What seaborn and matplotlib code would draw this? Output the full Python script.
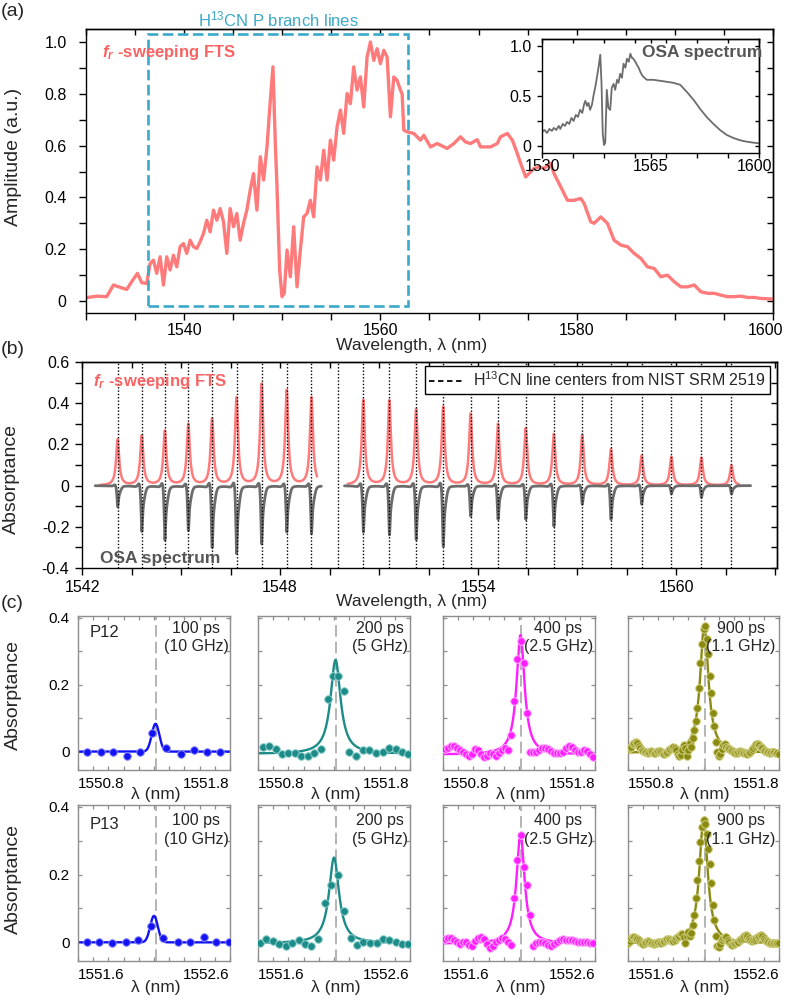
import numpy as np
import pandas as pd
import matplotlib
matplotlib.use("Agg")
import matplotlib.pyplot as plt
import seaborn as sns
from matplotlib.patches import Rectangle
from matplotlib.lines import Line2D
from matplotlib.ticker import FixedLocator, MultipleLocator
from matplotlib.transforms import ScaledTranslation

sns.set_theme(style="ticks")
plt.rcParams.update({
    "font.family": ["Liberation Sans", "DejaVu Sans"],
    "mathtext.fontset": "custom",
    "mathtext.rm": "Liberation Sans",
    "mathtext.it": "Liberation Sans:italic",
    "mathtext.bf": "Liberation Sans:bold",
    "mathtext.bfit": "Liberation Sans:italic:bold",
    "axes.unicode_minus": False,
    "axes.linewidth": 1.0,
    "axes.edgecolor": "black",
    "xtick.color": "black",
    "ytick.color": "black",
})

# ---------------- (a) f_r-sweeping FTS amplitude spectrum ----------------
fts_wl = [1530.00, 1531.09, 1532.11, 1532.79, 1533.47, 1534.15, 1534.66, 1535.24, 1535.68, 1536.19,
          1536.53, 1536.87, 1537.21, 1537.55, 1537.89, 1538.23, 1538.57, 1538.91, 1539.25, 1539.59,
          1539.93, 1540.27, 1540.61, 1540.95, 1541.29, 1541.63, 1541.97, 1542.31, 1542.65, 1542.99,
          1543.33, 1543.67, 1544.01, 1544.35, 1544.69, 1545.03, 1545.37, 1545.71, 1546.05, 1546.39,
          1546.73, 1547.07, 1547.41, 1547.76, 1548.10, 1548.44, 1548.78, 1549.05, 1549.29, 1549.46,
          1549.73, 1549.97, 1550.20, 1550.48, 1550.82, 1551.16, 1551.50, 1551.84, 1552.18, 1552.52,
          1552.86, 1553.20, 1553.54, 1553.88, 1554.22, 1554.56, 1554.90, 1555.24, 1555.58, 1555.92,
          1556.26, 1556.60, 1556.94, 1557.28, 1557.62, 1557.96, 1558.30, 1558.64, 1558.98, 1559.32,
          1559.66, 1560.00, 1560.34, 1560.68, 1561.02, 1561.36, 1561.70, 1562.04, 1562.21, 1562.38,
          1562.72, 1563.40, 1564.08, 1564.42, 1565.10, 1565.78, 1566.80, 1567.48, 1568.16, 1568.67,
          1569.18, 1569.86, 1570.20, 1571.22, 1571.90, 1572.24, 1572.93, 1573.44, 1573.95, 1574.29,
          1574.80, 1575.14, 1575.65, 1576.16, 1576.67, 1577.35, 1577.69, 1578.37, 1579.05, 1579.73,
          1580.41, 1580.75, 1581.43, 1581.77, 1582.45, 1583.13, 1583.81, 1584.49, 1585.17, 1585.85,
          1586.53, 1587.21, 1587.89, 1588.57, 1589.25, 1589.93, 1590.61, 1591.29, 1591.97, 1592.65,
          1593.33, 1594.01, 1594.69, 1595.37, 1596.05, 1596.73, 1597.41, 1598.10, 1598.78, 1600.00]
fts_amp = [0.013, 0.019, 0.017, 0.062, 0.053, 0.045, 0.075, 0.107, 0.071, 0.068,
           0.145, 0.158, 0.107, 0.171, 0.062, 0.171, 0.120, 0.177, 0.132, 0.210,
           0.222, 0.184, 0.235, 0.210, 0.203, 0.229, 0.261, 0.312, 0.267, 0.351,
           0.312, 0.357, 0.306, 0.184, 0.357, 0.287, 0.338, 0.235, 0.300, 0.351,
           0.428, 0.492, 0.351, 0.557, 0.467, 0.595, 0.775, 0.904, 0.608, 0.441,
           0.120, 0.017, 0.030, 0.197, 0.094, 0.287, 0.055, 0.197, 0.325, 0.338,
           0.389, 0.325, 0.518, 0.467, 0.582, 0.467, 0.621, 0.544, 0.672, 0.737,
           0.647, 0.801, 0.762, 0.904, 0.814, 0.865, 0.749, 0.942, 1.000, 0.929,
           0.974, 0.916, 0.968, 0.942, 0.711, 0.865, 0.852, 0.814, 0.800, 0.660,
           0.653, 0.647, 0.621, 0.640, 0.595, 0.608, 0.589, 0.608, 0.634, 0.614,
           0.608, 0.623, 0.595, 0.595, 0.608, 0.634, 0.647, 0.621, 0.569, 0.531,
           0.479, 0.492, 0.512, 0.518, 0.512, 0.531, 0.492, 0.441, 0.389, 0.389,
           0.396, 0.377, 0.306, 0.300, 0.325, 0.300, 0.235, 0.216, 0.210, 0.184,
           0.165, 0.132, 0.126, 0.094, 0.100, 0.075, 0.055, 0.055, 0.062, 0.036,
           0.030, 0.030, 0.023, 0.017, 0.017, 0.019, 0.014, 0.014, 0.010, 0.008]
box_wl = [1536.3, 1562.8]
box_amp = [-0.02, 1.03]

# (a) inset: OSA spectrum
osa_wl = [1530.0, 1530.8, 1531.6, 1532.4, 1533.2, 1533.8, 1534.6, 1535.4, 1535.9, 1536.7,
          1537.4, 1538.1, 1538.8, 1539.5, 1540.2, 1540.9, 1541.6, 1542.3, 1543.0, 1543.6,
          1544.0, 1544.5, 1545.0, 1545.5, 1546.1, 1546.6, 1547.2, 1547.8, 1548.3, 1548.8,
          1549.2, 1549.6, 1550.0, 1550.4, 1550.9, 1551.4, 1552.0, 1552.5, 1553.1, 1553.6,
          1554.2, 1554.7, 1555.2, 1555.8, 1556.3, 1556.9, 1557.4, 1558.0, 1558.5, 1559.0,
          1559.5, 1560.1, 1560.6, 1561.2, 1561.7, 1562.2, 1562.7, 1563.8, 1566.0, 1568.1,
          1570.3, 1572.4, 1574.6, 1576.7, 1578.9, 1581.0, 1583.1, 1585.3, 1587.4, 1589.6,
          1591.7, 1593.9, 1596.0, 1598.2, 1600.0]
osa_amp = [0.14, 0.16, 0.13, 0.17, 0.15, 0.18, 0.16, 0.20, 0.17, 0.22,
           0.20, 0.24, 0.22, 0.28, 0.25, 0.31, 0.29, 0.36, 0.33, 0.42,
           0.45, 0.40, 0.43, 0.36, 0.41, 0.50, 0.59, 0.70, 0.80, 0.91,
           0.62, 0.12, 0.01, 0.03, 0.56, 0.38, 0.36, 0.58, 0.62, 0.56,
           0.66, 0.63, 0.72, 0.68, 0.82, 0.78, 0.87, 0.84, 0.92, 0.88,
           0.87, 0.84, 0.81, 0.78, 0.74, 0.71, 0.69, 0.66, 0.66, 0.65,
           0.64, 0.63, 0.61, 0.54, 0.46, 0.37, 0.29, 0.22, 0.16, 0.11,
           0.08, 0.057, 0.043, 0.033, 0.027]

# ---------------- (b) absorptance of P-branch lines ----------------
line_centers = [1543.08, 1543.81, 1544.51, 1545.22, 1545.94, 1546.68, 1547.44, 1548.20,
                1548.95, 1549.74, 1550.52, 1551.31, 1552.12, 1552.94, 1553.77, 1554.60,
                1555.44, 1556.29, 1557.15, 1558.02, 1558.95, 1559.85, 1560.76, 1561.67]
fts_peak = [0.223, 0.242, 0.263, 0.296, 0.320, 0.423, 0.490, 0.459, 0.426, np.nan,
            0.413, 0.410, 0.367, 0.380, 0.346, 0.297, 0.277, 0.248, 0.245, 0.175,
            0.144, 0.139, 0.135, 0.098]
osa_dip = [0.102, 0.221, 0.262, 0.216, 0.298, 0.327, 0.281, 0.224, 0.232, np.nan,
           0.224, 0.237, 0.260, 0.293, 0.147, 0.163, 0.163, 0.196, 0.090, 0.163,
           0.090, 0.040, 0.057, 0.040]
fts_ranges = [(1542.55, 1549.12), (1550.05, 1561.90)]
osa_ranges = [(1542.40, 1549.25), (1549.95, 1562.25)]
fts_hwhm = 0.055
osa_hwhm = 0.03

# ---------------- (c) single lines P12 / P13 ----------------
p12_100_wl = [1550.861, 1550.949, 1551.032, 1551.120, 1551.208, 1551.289, 1551.377, 1551.478,
              1551.565, 1551.651, 1551.734]
p12_100_abs = [0.0, 0.0, 0.0, -0.013, 0.0, 0.057, 0.012, -0.008, 0.004, 0.0, 0.0]
p13_100_wl = [1551.661, 1551.740, 1551.826, 1551.915, 1551.997, 1552.078, 1552.161, 1552.256,
              1552.339, 1552.427, 1552.510, 1552.595]
p13_100_abs = [0.0, 0.0, -0.003, 0.0, 0.006, 0.049, 0.014, 0.0, 0.0, 0.015, 0.0, 0.0]

p12_200_wl = [1550.831, 1550.872, 1550.916, 1550.956, 1550.999, 1551.043, 1551.083, 1551.127,
              1551.170, 1551.214, 1551.259, 1551.296, 1551.326, 1551.366, 1551.401, 1551.445,
              1551.489, 1551.532, 1551.576, 1551.620, 1551.664, 1551.706, 1551.745, 1551.789]
p12_200_abs = [0.013, 0.017, 0.007, -0.007, -0.005, -0.005, -0.013, -0.013, -0.005, 0.007,
               0.157, 0.226, 0.226, 0.182, 0.0, -0.012, 0.005, 0.005, -0.003, -0.002,
               0.012, 0.009, 0.0, -0.008]
p13_200_wl = [1551.613, 1551.653, 1551.697, 1551.740, 1551.782, 1551.822, 1551.868, 1551.909,
              1551.949, 1551.997, 1552.041, 1552.080, 1552.124, 1552.168, 1552.210, 1552.249,
              1552.293, 1552.337, 1552.381, 1552.424, 1552.464, 1552.508, 1552.549, 1552.589]
p13_200_abs = [-0.002, 0.010, 0.005, -0.005, -0.010, -0.002, 0.007, -0.005, -0.010, 0.010,
               0.115, 0.169, 0.198, 0.093, 0.013, -0.007, 0.0, -0.003, -0.001, 0.010,
               0.007, 0.0, -0.005, -0.005]

p12_400_start, p13_400_start, step_400 = 1550.81, 1551.61, 0.02
p12_400_abs = [0.008, 0.010, 0.016, 0.017, 0.012, 0.005, 0.000, -0.006, -0.012, -0.006,
               0.008, 0.006, -0.008, -0.016, -0.014, -0.004, -0.006, -0.012, -0.004, 0.004,
               0.012, 0.006, 0.050, 0.150, 0.278, 0.330, 0.265, 0.115, -0.002, 0.000,
               -0.002, 0.004, 0.010, 0.012, 0.008, 0.002, -0.003, -0.004, -0.004, 0.000,
               0.010, 0.016, 0.013, 0.005, -0.002, -0.001, 0.005, 0.002, -0.008, -0.016]
p13_400_abs = [0.010, 0.014, 0.012, 0.008, 0.000, -0.004, 0.002, 0.000, -0.008, -0.012,
               0.004, 0.014, 0.016, 0.010, -0.006, -0.016, -0.012, 0.000, 0.006, 0.012,
               0.010, 0.002, -0.008, 0.132, 0.242, 0.318, 0.222, 0.168, 0.080, -0.010,
               -0.003, 0.000, 0.000, -0.003, -0.008, -0.012, -0.006, 0.002, 0.008, 0.010,
               0.008, 0.008, 0.006, 0.003, 0.000, 0.002, 0.000, 0.000, -0.001, -0.002]

p12_900_start, p13_900_start, step_900 = 1550.80, 1551.60, 0.01
p12_900_abs = [0.008, 0.010, 0.015, 0.022, 0.027, 0.028, 0.025, 0.018, 0.010, 0.004,
               0.002, 0.000, -0.002, -0.003, -0.001, 0.002, 0.000, -0.003, -0.004, -0.001,
               0.002, 0.001, -0.002, -0.004, -0.006, -0.004, 0.000, 0.004, 0.008, 0.012,
               0.015, 0.012, 0.004, -0.006, -0.012, -0.010, 0.005, 0.020, 0.010, -0.012,
               0.005, 0.027, 0.015, 0.040, 0.065, 0.090, 0.130, 0.190, 0.265, 0.320,
               0.365, 0.375, 0.335, 0.290, 0.225, 0.175, 0.115, 0.075, 0.030, 0.000,
               -0.012, -0.008, 0.008, 0.020, 0.022, 0.015, 0.010, 0.008, 0.004, 0.002,
               -0.002, -0.004, -0.003, 0.000, 0.002, 0.000, -0.002, -0.004, -0.005, -0.006,
               -0.004, 0.000, 0.005, 0.012, 0.018, 0.022, 0.024, 0.020, 0.014, 0.010,
               0.006, 0.003, 0.000, -0.002, -0.003, -0.002, 0.000, -0.002, -0.004, -0.005,
               -0.006]
p13_900_abs = [-0.002, 0.005, 0.012, 0.016, 0.017, 0.014, 0.010, 0.006, 0.000, -0.003,
               -0.004, -0.002, 0.001, 0.003, 0.002, -0.001, -0.003, -0.004, -0.003, -0.001,
               0.001, 0.000, -0.002, 0.000, 0.004, 0.008, 0.010, 0.010, 0.007, 0.004,
               0.005, 0.008, 0.012, 0.017, 0.020, 0.024, 0.026, 0.015, -0.003, 0.020,
               0.030, 0.018, 0.028, 0.050, 0.080, 0.130, 0.185, 0.240, 0.295, 0.340,
               0.362, 0.350, 0.320, 0.275, 0.230, 0.175, 0.110, 0.065, 0.020, -0.012,
               -0.015, -0.005, 0.006, 0.014, 0.017, 0.015, 0.008, 0.002, -0.004, -0.007,
               -0.006, -0.003, 0.000, 0.002, 0.006, 0.010, 0.014, 0.018, 0.021, 0.018,
               0.012, 0.006, 0.004, 0.006, 0.008, 0.012, 0.016, 0.020, 0.021, 0.018,
               0.013, 0.008, 0.003, 0.000, -0.002, -0.003, -0.003, -0.003, -0.002, -0.002,
               -0.002]

# fit parameters (100 ps: Gaussian, others: Lorentzian)
fit_center_p12 = [1551.31, 1551.31, 1551.31, 1551.305]
fit_amp_p12 = [0.083, 0.281, 0.357, 0.382]
fit_width_p12 = [0.025, 0.040, 0.032, 0.033]
fit_base_p12 = [0.0, -0.007, -0.009, -0.004]
fit_center_p13 = [1552.10, 1552.10, 1552.11, 1552.10]
fit_amp_p13 = [0.078, 0.253, 0.325, 0.368]
fit_width_p13 = [0.025, 0.040, 0.032, 0.033]
fit_base_p13 = [0.0, -0.003, -0.004, -0.003]
nist_p12, nist_p13 = 1551.31, 1552.11
xstart_p12, xstart_p13 = 1550.8, 1551.6
delays = ["100 ps", "200 ps", "400 ps", "900 ps"]
rates = ["(10 GHz)", "(5 GHz)", "(2.5 GHz)", "(1.1 GHz)"]
line_names = ["P12", "P13"]

# ---------------- styling ----------------
RED_LINE = "#FF7B7B"
RED_TEXT = "#F86464"
GRAY_LINE = "#6C6C6C"
GRAY_TEXT = "#565656"
CYAN = "#3AA9C9"
COLORS_C = ["#1212F2", "#1D8B87", "#FF1EFF", "#8A8A12"]
EDGE_C = ["#8C8CFF", "#8CCFCB", "#FFB0FF", "#D0CF80"]

W, H = 787, 999
fig = plt.figure(figsize=(W / 100, H / 100), dpi=100)


def rect(l, t, r, b):
    return [l / W, 1 - b / H, (r - l) / W, (b - t) / H]


def mirror(ax, length):
    sx = ax.secondary_xaxis("top")
    sx.xaxis.set_major_locator(FixedLocator(ax.get_xticks()))
    sx.xaxis.set_minor_locator(FixedLocator(ax.xaxis.get_minorticklocs()))
    sx.tick_params(which="both", direction="in", length=length, width=1.0, labeltop=False)
    sy = ax.secondary_yaxis("right")
    sy.yaxis.set_major_locator(FixedLocator(ax.get_yticks()))
    sy.yaxis.set_minor_locator(FixedLocator(ax.yaxis.get_minorticklocs()))
    sy.tick_params(which="both", direction="in", length=length, width=1.0, labelright=False)


def shift_last_xticklabel(ax, dx_px):
    lab = ax.xaxis.get_major_ticks()[-1].label1
    lab.set_transform(lab.get_transform() + ScaledTranslation(dx_px / 100, 0, fig.dpi_scale_trans))


def lorentz(x, x0, g):
    return g ** 2 / ((x - x0) ** 2 + g ** 2)


# ================= panel (a) =================
axA = fig.add_axes(rect(86, 29, 773, 313))
dfA = pd.DataFrame({"wl": fts_wl, "amp": fts_amp})
sns.lineplot(data=dfA, x="wl", y="amp", ax=axA, color=RED_LINE, lw=2.4,
             sort=False, estimator=None, zorder=2)
axA.add_patch(Rectangle((box_wl[0], box_amp[0]), box_wl[1] - box_wl[0], box_amp[1] - box_amp[0],
                        fill=False, ec=CYAN, lw=1.9, ls=(0, (4, 1.7)), zorder=3))
axA.set_xlim(1530, 1600)
axA.set_ylim(-0.046, 1.05)
axA.xaxis.set_major_locator(FixedLocator([1540, 1560, 1580, 1600]))
axA.xaxis.set_minor_locator(MultipleLocator(5))
axA.set_yticks([0, 0.2, 0.4, 0.6, 0.8, 1.0], ["0", "0.2", "0.4", "0.6", "0.8", "1.0"])
axA.yaxis.set_minor_locator(MultipleLocator(0.1))
axA.tick_params(which="both", direction="out", length=5, width=1.0, labelsize=11.5)
axA.tick_params(axis="x", pad=2)
axA.tick_params(axis="y", pad=9)
mirror(axA, 4.5)
shift_last_xticklabel(axA, -7)
axA.set_xlabel("Wavelength, λ (nm)", fontsize=12.6, va="center")
axA.xaxis.set_label_coords(0.474, -0.114)
axA.set_ylabel("Amplitude (a.u.)", fontsize=14, va="center")
axA.yaxis.set_label_coords(-0.106, 0.548)
axA.text(0.0233, 0.919, r"$\mathbfit{f_r}$ -sweeping FTS", transform=axA.transAxes,
         color=RED_TEXT, fontsize=12, fontweight="bold", va="center", ha="left")
fig.text(278 / W, 1 - 19 / H, r"H$^{13}$CN P branch lines", color=CYAN, fontsize=12,
         ha="center", va="center")
fig.text(1 / W, 1 - 12 / H, "(a)", fontsize=14, ha="left", va="center")

# inset
axI = fig.add_axes(rect(542, 39, 759, 153))
sns.lineplot(x=osa_wl, y=osa_amp, ax=axI, color=GRAY_LINE, lw=1.3, sort=False, estimator=None)
axI.set_xlim(1530, 1600)
axI.set_ylim(-0.07, 1.067)
axI.set_xticks([1530, 1565, 1600], ["1530", "1565", "1600"])
axI.xaxis.set_minor_locator(FixedLocator([1540, 1550, 1560, 1570, 1580, 1590]))
axI.set_yticks([0, 0.5, 1.0], ["0", "0.5", "1.0"])
axI.yaxis.set_minor_locator(FixedLocator([0.25, 0.75]))
axI.tick_params(which="both", direction="out", length=3.5, width=1.0, labelsize=11.5)
axI.tick_params(axis="x", pad=1)
axI.tick_params(axis="y", pad=4)
mirror(axI, 3)
shift_last_xticklabel(axI, -4)
fig.text(762 / W, 1 - 52 / H, "OSA spectrum", color=GRAY_TEXT, fontsize=12.5,
         fontweight="bold", ha="right", va="center")

# ================= panel (b) =================
axB = fig.add_axes(rect(82, 362, 777, 568))
for c in line_centers:
    axB.axvline(c, color="black", lw=1.0, ls=(0, (1, 1.4)), zorder=3)

for a, b in fts_ranges:
    xg = np.linspace(a, b, 4000)
    yg = np.zeros_like(xg)
    for c, h in zip(line_centers, fts_peak):
        if not np.isnan(h):
            yg += h * lorentz(xg, c, fts_hwhm)
    sns.lineplot(x=xg, y=yg, ax=axB, color=RED_LINE, lw=1.8, sort=False, estimator=None, zorder=2)

for a, b in osa_ranges:
    xg = np.linspace(a, b, 4000)
    yg = np.zeros_like(xg)
    for c, d in zip(line_centers, osa_dip):
        if not np.isnan(d):
            dx = xg - c
            yg -= d * (lorentz(xg, c, osa_hwhm) + 0.18 * (dx / 0.06) * np.exp(0.5 - dx ** 2 / (2 * 0.06 ** 2)))
    sns.lineplot(x=xg, y=yg, ax=axB, color=GRAY_LINE, lw=2.0, sort=False, estimator=None, zorder=2)

axB.set_xlim(1542, 1563.05)
axB.set_ylim(-0.4, 0.6)
axB.xaxis.set_major_locator(FixedLocator([1542, 1548, 1554, 1560]))
axB.xaxis.set_minor_locator(MultipleLocator(1.5))
axB.set_yticks([-0.4, -0.2, 0, 0.2, 0.4, 0.6], ["-0.4", "-0.2", "0", "0.2", "0.4", "0.6"])
axB.yaxis.set_minor_locator(MultipleLocator(0.1))
axB.tick_params(which="both", direction="out", length=5, width=1.0, labelsize=11.5)
axB.tick_params(axis="x", pad=4)
axB.tick_params(axis="y", pad=4)
mirror(axB, 4.5)
axB.set_xlabel("Wavelength, λ (nm)", fontsize=12.6, va="center")
axB.xaxis.set_label_coords(0.475, -0.165)
axB.set_ylabel("Absorptance", fontsize=14, va="center")
axB.yaxis.set_label_coords(-0.102, 0.432)
axB.text(0.0158, 0.903, r"$\mathbfit{f_r}$ -sweeping FTS", transform=axB.transAxes,
         color=RED_TEXT, fontsize=12, fontweight="bold", va="center", ha="left", zorder=5)
axB.text(0.0259, 0.0485, "OSA spectrum", transform=axB.transAxes, color=GRAY_TEXT,
         fontsize=12.5, fontweight="bold", va="center", ha="left", zorder=5)
handle = Line2D([], [], color="black", lw=1.3, ls=(0, (3, 2)))
leg = axB.legend([handle], [r"H$^{13}$CN line centers from NIST SRM 2519"], loc="upper right",
                 bbox_to_anchor=(1 - 7 / 695, 1 - 4 / 206), borderaxespad=0, frameon=True,
                 fancybox=False, edgecolor="black", framealpha=1, fontsize=11.5,
                 handlelength=2.2, handletextpad=0.5, borderpad=0.3)
leg.get_frame().set_linewidth(1.0)
leg.set_zorder(10)
fig.text(1 / W, 1 - 349 / H, "(b)", fontsize=14, ha="left", va="center")

# ================= panel (c) =================
col_px = [(78, 230), (258, 410), (443, 595), (628, 779)]
row_px = [(616, 770), (805, 961)]
text_cx = [0.778, 0.803, 0.760, 0.746]
text_cy = [0.860, 0.840]
pts_wl = [
    [p12_100_wl, p12_200_wl,
     list(p12_400_start + step_400 * np.arange(len(p12_400_abs))),
     list(p12_900_start + step_900 * np.arange(len(p12_900_abs)))],
    [p13_100_wl, p13_200_wl,
     list(p13_400_start + step_400 * np.arange(len(p13_400_abs))),
     list(p13_900_start + step_900 * np.arange(len(p13_900_abs)))],
]
pts_abs = [[p12_100_abs, p12_200_abs, p12_400_abs, p12_900_abs],
           [p13_100_abs, p13_200_abs, p13_400_abs, p13_900_abs]]
fit_c = [fit_center_p12, fit_center_p13]
fit_a = [fit_amp_p12, fit_amp_p13]
fit_w = [fit_width_p12, fit_width_p13]
fit_b = [fit_base_p12, fit_base_p13]
nist = [nist_p12, nist_p13]
xstart = [xstart_p12, xstart_p13]
xlab_y = [-0.162, -0.167]
ylab_y = [0.487, 0.526]

for r in range(2):
    t, b = row_px[r]
    for ci in range(4):
        l, rr = col_px[ci]
        ax = fig.add_axes(rect(l, t, rr, b))
        x0 = xstart[r]
        xf = np.linspace(x0, x0 + 1.0, 800)
        if ci == 0:
            yf = fit_b[r][ci] + fit_a[r][ci] * np.exp(-(xf - fit_c[r][ci]) ** 2 / (2 * fit_w[r][ci] ** 2))
        else:
            yf = fit_b[r][ci] + fit_a[r][ci] * lorentz(xf, fit_c[r][ci], fit_w[r][ci])
        ax.axvline(nist[r], color="#A8A8A8", lw=1.2, ls=(0, (7, 3)), zorder=1)
        sns.lineplot(x=xf, y=yf, ax=ax, color=COLORS_C[ci], lw=1.7, sort=False,
                     estimator=None, zorder=2)
        sns.scatterplot(x=pts_wl[r][ci], y=pts_abs[r][ci], ax=ax, color=COLORS_C[ci],
                        s=30, edgecolor=EDGE_C[ci], linewidth=0.7, zorder=3, legend=False)
        ax.set_xlim(x0, x0 + 1.0)
        ax.set_ylim(-0.055, 0.405)
        ax.set_xticks([x0, x0 + 1.0], [f"{x0:.1f}", f"{x0 + 1.0:.1f}"])
        lbls = ax.get_xticklabels()
        lbls[0].set_ha("left")
        lbls[1].set_ha("right")
        ax.xaxis.set_minor_locator(MultipleLocator(0.1))
        ax.set_yticks([0, 0.2, 0.4], ["0", "0.2", "0.4"] if ci == 0 else ["", "", ""])
        ax.yaxis.set_minor_locator(MultipleLocator(0.1))
        ax.tick_params(which="both", direction="in", length=3, width=0.9, color="#8E8E8E",
                       top=True, right=True, labelsize=11)
        ax.tick_params(axis="x", pad=5)
        ax.tick_params(axis="y", pad=6)
        for sp in ax.spines.values():
            sp.set_color("#8E8E8E")
            sp.set_linewidth(1.0)
        ax.set_xlabel("λ (nm)", fontsize=12.5, va="center")
        ax.xaxis.set_label_coords(0.51, xlab_y[r])
        if ci == 0:
            ax.set_ylabel("Absorptance", fontsize=14, va="center")
            ax.yaxis.set_label_coords(-0.424, ylab_y[r])
            ax.text(0.079, 0.89 if r == 0 else 0.875, line_names[r], transform=ax.transAxes,
                    fontsize=12, ha="left", va="center")
        else:
            ax.set_ylabel("")
        ax.text(text_cx[ci], text_cy[r], f"{delays[ci]}\n{rates[ci]}", transform=ax.transAxes,
                fontsize=11.5, ha="center", va="center", multialignment="center", linespacing=1.3)

fig.text(1 / W, 1 - 604 / H, "(c)", fontsize=14, ha="left", va="center")

fig.savefig("out.png", dpi=100)
